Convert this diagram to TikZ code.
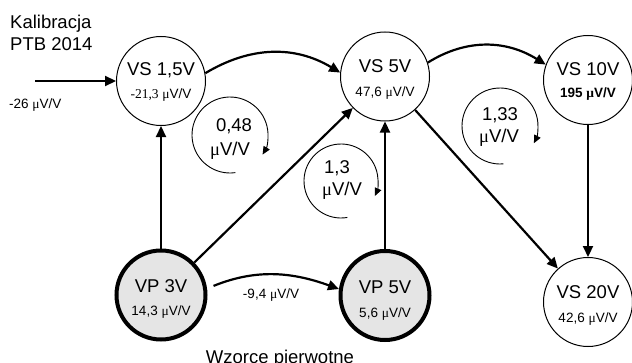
\documentclass[tikz,border=0pt]{standalone}
\usepackage{fontspec}
\setmainfont{Liberation Sans}
\newfontfamily\tmsfont{Liberation Serif}
\usetikzlibrary{arrows.meta,calc}
\definecolor{vpfill}{RGB}{229,229,229}
\newcommand\uVV{{\tmsfont μ}V/V}
\begin{document}
\begin{tikzpicture}[x=1bp,y=1bp,
  vs/.style={circle, draw, line width=1bp, minimum size=89bp, inner sep=0pt},
  vp/.style={vs, line width=4bp, fill=vpfill},
  big/.style={font=\fontsize{18.5bp}{22bp}\selectfont, anchor=base, inner sep=0pt},
  small/.style={font=\fontsize{13.5bp}{16bp}\selectfont, anchor=base, inner sep=0pt},
  conn/.style={line width=2.2bp, -{Triangle[length=11bp,width=10bp]}},
  cyc/.style={line width=0.9bp, -{Triangle[length=8bp,width=7bp]}}]
\useasboundingbox (0,0) rectangle (632,362);

% standards
\node[vs] (vs15) at (161,281) {};
\node[vs] (vs5)  at (385,285.5) {};
\node[vs] (vs10) at (588,282) {};
\node[vs] (vs20) at (588,60) {};
\node[vp] (vp3)  at (161,67) {};
\node[vp] (vp5)  at (385,66.5) {};

% their labels
\node[big]   at ($(vs15)+(0,6)$)   {VS 1,5V};
\node[small] at ($(vs15)+(0,-17)$) {{\tmsfont -21,3} \uVV};
\node[big]   at ($(vs5)+(0,4.5)$)  {VS 5V};
\node[small] at ($(vs5)+(0,-20)$)  {47,6 \uVV};
\node[big]   at ($(vs10)+(0,5)$)   {VS 10V};
\node[small] at ($(vs10)+(0,-17)$) {\bfseries 195 \uVV};
\node[big]   at ($(vs20)+(0,4)$)   {VS 20V};
\node[small] at ($(vs20)+(0,-20)$) {42,6 \uVV};
\node[big]   at ($(vp3)+(0,3)$)    {VP 3V};
\node[small] at ($(vp3)+(0,-20)$)  {14,3 \uVV};
\node[big]   at ($(vp5)+(0,2.5)$)  {VP 5V};
\node[small] at ($(vp5)+(0,-21.5)$) {5,6 \uVV};

% external calibration input
\node[big, anchor=base west] (kal) at (10,334) {Kalibracja};
\node[big, anchor=base west] (ptb) at (10,312) {PTB 2014};
\coordinate (src) at (35,281);
\draw[conn] (src) -- (vs15);
\node[small, anchor=base west] (inlab) at (9,254) {-26 \uVV};

% transfers between standards
\draw[conn] (vs15.10) to[out=31,in=149] (vs5.175);
\draw[conn] (vs5.18) to[out=32,in=148] (vs10.160);
\draw[conn] (vp3) -- (vs15);
\draw[conn] (vp3) -- (vs5);
\draw[conn] (vp5) -- (vs5);
\draw[conn] (vs5) -- (vs20);
\draw[conn] (vs10) -- (vs20);
\draw[conn, shorten <=7bp] (vp3.8) to[out=22,in=160] (vp5.172);
\node[small] (d94) at (271,64) {-9,4 \uVV};

% closing loops
\coordinate (c1) at (230,227);
\draw[cyc] ($(c1)+(-82:38)$) arc[start angle=-82, end angle=-391, radius=38];
\node[big] at (234,231) {0,48};
\node[big] at (230,207) {\uVV};

\coordinate (c2) at (341,181);
\draw[cyc] ($(c2)+(-80:37)$) arc[start angle=-80, end angle=-384, radius=37];
\node[big] at (337,189) {1,3};
\node[big] at (342,167) {\uVV};

\coordinate (c3) at (500,236);
\draw[cyc] ($(c3)+(-85:38)$) arc[start angle=-85, end angle=-387, radius=38];
\node[big] at (500,242) {1,33};
\node[big] at (499,220) {\uVV};

\node[big] (wp) at (280,-1) {Wzorce pierwotne};
\end{tikzpicture}
\end{document}
